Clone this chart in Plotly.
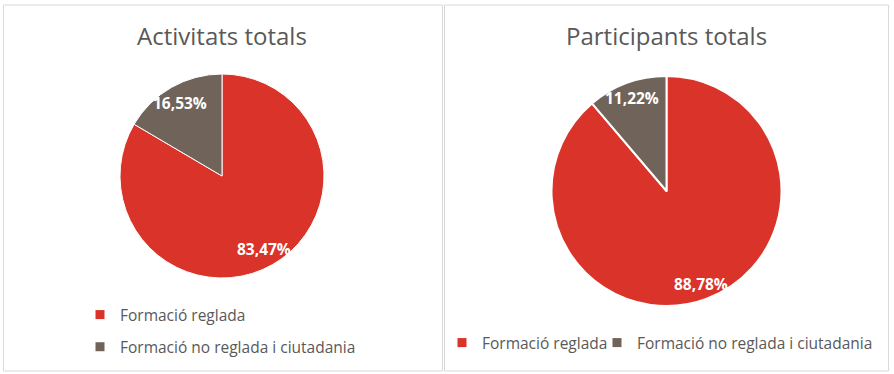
import math
import plotly.graph_objects as go

categories = ["Formació reglada", "Formació no reglada i ciutadania"]
activitats = [83.47, 16.53]
participants = [88.78, 11.22]
titles = ["Activitats totals", "Participants totals"]
colors = ["#DA3329", "#6F635A"]

W, H = 894, 374
FONT = "Open Sans"
GREY = "#595959"

def fmt(v):
    return f"{v:.2f}".replace(".", ",") + "%"

fig = go.Figure()
annotations = []

pies = [
    # values, center x px, center y px, radius px, separator width, label radius fraction
    (activitats, 222, 176, 102, 1, 0.82),
    (participants, 666.5, 191, 115, 2, 0.86),
]

for (vals, cx, cy, r, lw, frac) in pies:
    fig.add_trace(go.Pie(
        labels=categories, values=vals, sort=False, direction="clockwise", rotation=0,
        marker=dict(colors=colors, line=dict(color="white", width=lw)),
        textinfo="none", hoverinfo="label+percent",
        domain=dict(x=[(cx - r) / W, (cx + r) / W], y=[1 - (cy + r) / H, 1 - (cy - r) / H]),
        showlegend=False,
    ))
    total = sum(vals)
    start = 0.0
    for v in vals:
        mid = (start + v / 2) / total * 2 * math.pi
        start += v
        lx = cx + frac * r * math.sin(mid)
        ly = cy - frac * r * math.cos(mid)
        annotations.append(dict(
            text=fmt(v), x=lx / W, y=1 - ly / H, xref="paper", yref="paper",
            xanchor="center", yanchor="middle", showarrow=False,
            font=dict(family=FONT, size=15.5, color="white", weight="bold")))

# legend entries: left panel in one vertical legend, right panel one legend per entry
right_legends = ["legend2", "legend3"]
for i, (cat, col) in enumerate(zip(categories, colors)):
    fig.add_trace(go.Scatter(x=[None], y=[None], mode="markers", name=cat,
                             marker=dict(symbol="square", size=9, color=col),
                             legend="legend", legendgroup=f"g{i}", showlegend=True,
                             hoverinfo="skip"))
    fig.add_trace(go.Scatter(x=[None], y=[None], mode="markers", name=cat,
                             marker=dict(symbol="square", size=9, color=col),
                             legend=right_legends[i], showlegend=True, hoverinfo="skip"))

for t, cx in zip(titles, [222, 666.5]):
    annotations.append(dict(text=t, x=cx / W, y=1 - 36 / H, xref="paper", yref="paper",
                            xanchor="center", yanchor="middle", showarrow=False,
                            font=dict(family=FONT, size=24, color=GREY)))

legend_common = dict(font=dict(family=FONT, size=15.5, color=GREY),
                     bgcolor="rgba(0,0,0,0)", itemclick=False)

fig.update_layout(
    width=W, height=H, margin=dict(l=0, r=0, t=0, b=0),
    paper_bgcolor="white", plot_bgcolor="white",
    xaxis=dict(visible=False), yaxis=dict(visible=False),
    legend=dict(x=80 / W, y=1 - 298 / H, xanchor="left", yanchor="top", orientation="v",
                tracegroupgap=9, **legend_common),
    legend2=dict(x=442 / W, y=1 - 343 / H, xanchor="left", yanchor="middle",
                 orientation="h", **legend_common),
    legend3=dict(x=597 / W, y=1 - 343 / H, xanchor="left", yanchor="middle",
                 orientation="h", **legend_common),
    shapes=[
        dict(type="rect", xref="paper", yref="paper", x0=3.5 / W, x1=442.5 / W,
             y0=1 - 371 / H, y1=1 - 5 / H, line=dict(color="#D9D9D9", width=1)),
        dict(type="rect", xref="paper", yref="paper", x0=444.5 / W, x1=888.5 / W,
             y0=1 - 371 / H, y1=1 - 5 / H, line=dict(color="#D9D9D9", width=1)),
    ],
    annotations=annotations,
)

fig.write_html("out.html", config=dict(displayModeBar=False),
               post_script="document.body.style.margin='0';document.body.style.overflow='hidden';")
